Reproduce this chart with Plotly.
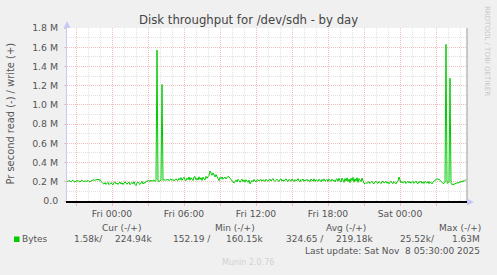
import pandas as pd
import plotly.graph_objects as go

# ---------------- data ----------------
start_time = "2025-11-06 20:15"
step = "5min"
# write throughput (bytes/s, in thousands), one sample per 5 minutes
write_k = [
    208, 201, 214, 203, 198, 212, 216, 202, 197, 210, 205, 215, 200, 196, 211, 218, 204, 199, 213, 202,
    206, 215, 203, 198, 209, 213, 218, 222, 212, 226, 218, 229, 215, 224, 205, 190, 182, 176, 192, 172,
    186, 195, 170, 184, 191, 175, 168, 193, 198, 178, 188, 172, 185, 197, 176, 190, 171, 183, 200, 187,
    174, 189, 196, 170, 185, 194, 178, 201, 173, 160.15, 190, 198, 181, 172, 188, 203, 177, 193, 185, 205,
    212, 203, 215, 200, 218, 206, 209, 219, 201, 214, 1570, 208, 204, 211, 216, 1212, 214, 226, 213, 224,
    216, 228, 211, 223, 230, 214, 225, 209, 222, 231, 218, 213, 236, 220, 244, 215, 232, 247, 219, 212,
    238, 222, 251, 216, 242, 226, 213, 249, 255, 220, 238, 217, 252, 224, 243, 214, 248, 230, 219, 256,
    236, 252, 266, 312, 280, 268, 292, 262, 250, 275, 240, 232, 212, 246, 230, 251, 226, 244, 249, 229,
    246, 257, 250, 238, 228, 214, 196, 186, 204, 218, 199, 226, 210, 195, 213, 228, 201, 220, 196, 222,
    206, 194, 217, 178, 197, 215, 200, 224, 208, 198, 219, 221, 207, 216, 225, 206, 222, 213, 204, 227,
    212, 205, 223, 228, 208, 218, 234, 214, 203, 216, 227, 211, 204, 224, 230, 207, 221, 206, 217, 231,
    210, 203, 225, 214, 206, 228, 218, 202, 223, 209, 216, 233, 207, 199, 224, 213, 229, 205, 220, 211,
    226, 207, 216, 201, 229, 215, 206, 231, 204, 222, 213, 205, 227, 217, 200, 224, 210, 230, 206, 214,
    225, 203, 229, 212, 206, 227, 210, 218, 200, 223, 232, 205, 236, 211, 198, 239, 219, 194, 234, 208,
    241, 202, 228, 190, 237, 212, 246, 196, 231, 207, 243, 193, 234, 216, 201, 238, 210, 184, 180, 192,
    183, 197, 201, 182, 196, 204, 186, 178, 199, 206, 190, 183, 203, 195, 180, 200, 207, 186, 197, 205,
    184, 198, 179, 200, 206, 188, 181, 202, 189, 178, 199, 204, 250, 207, 189, 203, 186, 196, 205, 182,
    199, 206, 187, 201, 184, 197, 205, 183, 198, 208, 186, 180, 202, 193, 206, 184, 199, 182, 204, 191,
    186, 203, 180, 199, 192, 178, 197, 205, 214, 228, 232, 224, 229, 214, 200, 191, 185, 182, 196, 1630,
    190, 184, 197, 1278, 182, 172, 176, 168, 185, 179, 194, 183, 198, 191, 207, 196, 212, 203, 219, 224.94,
]
x_range = ["2025-11-06 20:15", "2025-11-08 05:35"]
x_major_ticks = pd.date_range("2025-11-06 21:00", "2025-11-08 03:00", freq="3h")
x_label_hours = [0, 6, 12, 18]
y_tick_vals = [0, 200000, 400000, 600000, 800000, 1000000, 1200000, 1400000, 1600000, 1800000]
y_tick_text = ["0.0", "0.2 M", "0.4 M", "0.6 M", "0.8 M", "1.0 M", "1.2 M", "1.4 M", "1.6 M", "1.8 M"]

title_text = "Disk throughput for /dev/sdh - by day"
y_title = "Pr second read (-) / write (+)"
series_name = "Bytes"
legend_headers = ["Cur (-/+)", "Min (-/+)", "Avg (-/+)", "Max (-/+)"]
legend_values = [("1.58k/", "224.94k"), ("152.19 /", "160.15k"),
                 ("324.65 /", "219.18k"), ("25.52k/", "1.63M")]
last_update = "Last update: Sat Nov  8 05:30:00 2025"
footer = "Munin 2.0.76"
side_text = "RRDTOOL / TOBI OETIKER"

# ---------------- figure ----------------
times = pd.date_range(start_time, periods=len(write_k), freq=step)
write_vals = [v * 1000 for v in write_k]

W, H = 497, 275
L, R, T, B = 67, 30, 28, 74
PW, PH = W - L - R, H - T - B
FONT = "DejaVu Sans"
GREEN = "#00CC00"
RED_GRID = "#F2BDBD"
MINOR_GRID = "#E2E2E2"
AXIS_BLUE = "#C8C8F8"
TXT = "#555555"


def px(x):
    return (x - L) / PW


def py(y):
    return (T + PH - y) / PH


fig = go.Figure()
fig.add_trace(go.Scatter(x=times, y=write_vals, mode="lines", name=series_name,
                         line=dict(color=GREEN, width=1), hoverinfo="x+y"))

x_text = [t.strftime("%a %H:%M") if t.hour in x_label_hours else "" for t in x_major_ticks]

fig.update_layout(
    width=W, height=H,
    margin=dict(l=L, r=R, t=T, b=B, pad=0),
    paper_bgcolor="#F0F0F0", plot_bgcolor="#FFFFFF",
    showlegend=False,
    font=dict(family=FONT, size=9, color=TXT),
    xaxis=dict(
        type="date", range=x_range,
        tickmode="array", tickvals=x_major_ticks, ticktext=x_text,
        showgrid=True, gridcolor=RED_GRID, griddash="1px,1px", gridwidth=1,
        ticks="outside", ticklen=3, tickcolor=RED_GRID, tickwidth=1,
        tickfont=dict(family=FONT, size=9.2, color=TXT),
        minor=dict(dtick=3600000, tick0="2025-11-07 00:00", showgrid=True,
                   gridcolor=MINOR_GRID, griddash="1px,1px", gridwidth=1, ticks=""),
        showline=True, linecolor="#000000", linewidth=2,
        zeroline=False, fixedrange=True,
    ),
    yaxis=dict(
        range=[0, 1800000],
        tickmode="array", tickvals=y_tick_vals, ticktext=y_tick_text,
        showgrid=True, gridcolor=RED_GRID, griddash="1px,1px", gridwidth=1,
        ticks="outside", ticklen=2, tickcolor=RED_GRID,
        ticklabelstandoff=4,
        tickfont=dict(family=FONT, size=9.4, color=TXT),
        minor=dict(dtick=100000, tick0=0, showgrid=True, gridcolor=MINOR_GRID,
                   griddash="1px,1px", gridwidth=1, ticks=""),
        showline=True, linecolor=AXIS_BLUE, linewidth=1,
        zeroline=False, fixedrange=True,
    ),
)

# decorations: right edge line, axis arrows
fig.add_shape(type="line", xref="paper", yref="paper", x0=1, x1=1, y0=0, y1=1,
              line=dict(color="#999999", width=1))
fig.add_shape(type="path", xref="paper", yref="paper",
              path=f"M {px(63.5)} {py(28)} L {px(70.5)} {py(28)} L {px(67)} {py(21)} Z",
              fillcolor=AXIS_BLUE, line=dict(width=0))
fig.add_shape(type="path", xref="paper", yref="paper",
              path=f"M {px(467)} {py(198.5)} L {px(467)} {py(205.5)} L {px(474)} {py(202)} Z",
              fillcolor=AXIS_BLUE, line=dict(width=0))


def ann(text, x, y, anchor="center", size=9, color=TXT, angle=0):
    fig.add_annotation(text=text, x=px(x), y=py(y), xref="paper", yref="paper",
                       xanchor=anchor, yanchor="middle", showarrow=False,
                       textangle=angle, font=dict(family=FONT, size=size, color=color))


ann(title_text, 248.3, 20, size=11.7, color="#444444")
ann(y_title, 9.5, 114, size=9.9, angle=-90)
ann(side_text, 487, 51, size=7, color="#C8C8C8", angle=90)

header_centers = [121.7, 235, 346.3, 459.7]
for h, cx in zip(legend_headers, header_centers):
    ann(h, cx, 227.5)

fig.add_shape(type="rect", xref="paper", yref="paper",
              x0=px(14), x1=px(19.5), y0=py(242), y1=py(236.5),
              fillcolor=GREEN, line=dict(width=0))
ann(series_name, 19.5, 239.3, anchor="left")
value_right_edges = [(105, 154), (213.3, 265), (326, 375.3), (437.3, 482.3)]
for (a, b), (ra, rb) in zip(legend_values, value_right_edges):
    ann(a, ra, 239.3, anchor="right")
    ann(b, rb, 239.3, anchor="right")

ann(last_update, 482.3, 251, anchor="right")
ann(footer, 248, 262.7, size=8, color="#D0D0D0")

fig.write_html("out.html", config=dict(displayModeBar=False))
